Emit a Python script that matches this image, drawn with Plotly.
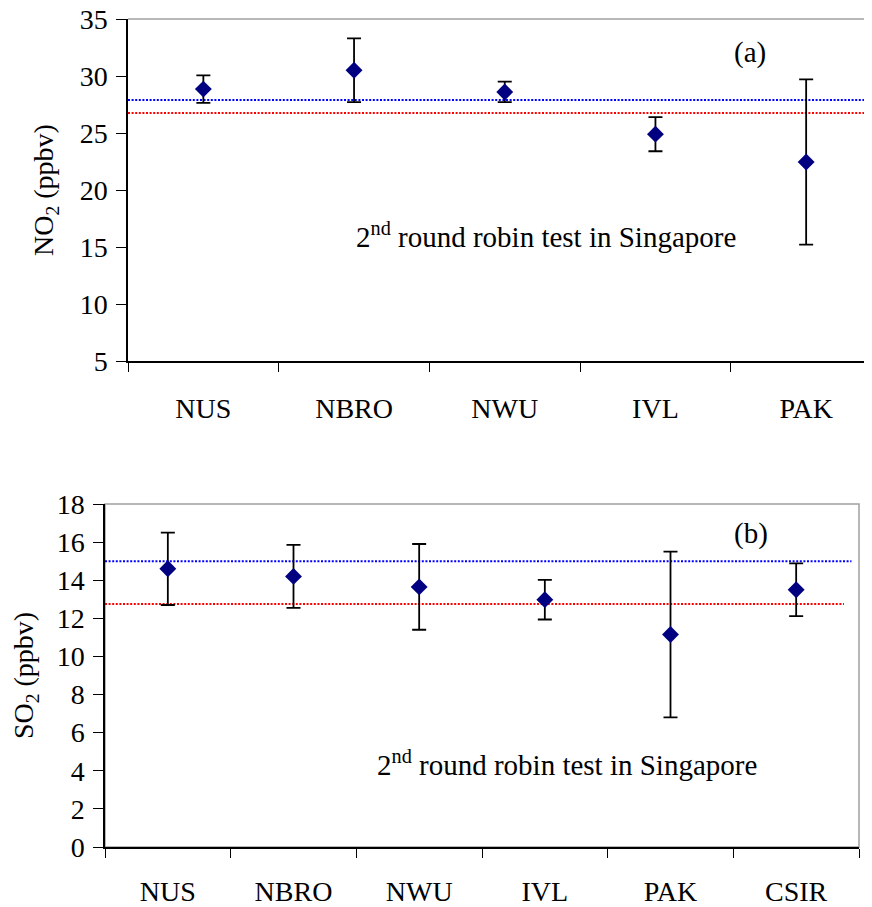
import plotly.graph_objects as go

# ---- data ----
labs_no2 = ["NUS", "NBRO", "NWU", "IVL", "PAK"]
no2_mean = [28.85, 30.5, 28.6, 24.9, 22.45]
no2_err = [1.2, 2.8, 0.9, 1.5, 7.25]
no2_blue = 27.9
no2_red = 26.75

labs_so2 = ["NUS", "NBRO", "NWU", "IVL", "PAK", "CSIR"]
so2_mean = [14.6, 14.2, 13.65, 12.98, 11.15, 13.5]
so2_err = [1.9, 1.65, 2.25, 1.04, 4.35, 1.38]
so2_blue = 15.0
so2_red = 12.75

no2_ticks = [5, 10, 15, 20, 25, 30, 35]
so2_ticks = [0, 2, 4, 6, 8, 10, 12, 14, 16, 18]

FONT = "Liberation Serif"
FS = 28
OFF = 8                      # page body margin of the browser
VW, VH = 872, 907            # window
W, H = VW - OFF, VH - OFF    # figure size


def px(x):
    return (x - OFF) / W


def py(y):
    return (H - (y - OFF)) / H


fig = go.Figure()

fig.add_trace(go.Scatter(
    x=labs_no2, y=no2_mean, mode="markers",
    marker=dict(symbol="diamond", size=13, color="#000080"),
    error_y=dict(type="data", array=no2_err, color="black", thickness=1.8, width=7),
    xaxis="x", yaxis="y", showlegend=False, cliponaxis=False))

fig.add_trace(go.Scatter(
    x=labs_so2, y=so2_mean, mode="markers",
    marker=dict(symbol="diamond", size=13, color="#000080"),
    error_y=dict(type="data", array=so2_err, color="black", thickness=1.8, width=7),
    xaxis="x2", yaxis="y2", showlegend=False, cliponaxis=False))

# geometry in window pixels (reference)
top_l, top_t, top_b = 128, 19, 361
top_step = 150.7
bot_l, bot_r, bot_t, bot_b = 105, 859, 504, 847

top_range_end = (VW - top_l) / top_step - 0.5

axis_common = dict(
    showline=True, linecolor="black", linewidth=1.5,
    ticks="outside", tickcolor="black", tickwidth=1.2,
    showgrid=False, zeroline=False,
    tickfont=dict(family=FONT, size=FS, color="black"),
    automargin=False, ticklabeloverflow="allow",
)

fig.update_layout(
    width=W, height=H,
    margin=dict(l=0, r=0, t=0, b=0),
    plot_bgcolor="white", paper_bgcolor="white",
    font=dict(family=FONT, size=FS, color="black"),
    xaxis=dict(domain=[px(top_l), 1.0], anchor="y", type="category",
               categoryorder="array", categoryarray=labs_no2,
               range=[-0.5, top_range_end], tickson="boundaries",
               ticklen=9, ticklabelstandoff=22, **axis_common),
    yaxis=dict(domain=[py(top_b), py(top_t)], anchor="x",
               range=[5, 35], tickvals=no2_ticks, ticklen=10, ticklabelstandoff=3,
               title=dict(text="NO<sub>2</sub> (ppbv)", standoff=18,
                          font=dict(family=FONT, size=FS, color="black")),
               **axis_common),
    xaxis2=dict(domain=[px(bot_l), px(bot_r)], anchor="y2", type="category",
                categoryorder="array", categoryarray=labs_so2,
                range=[-0.5, 5.5], tickson="boundaries",
                ticklen=9, ticklabelstandoff=19, **axis_common),
    yaxis2=dict(domain=[py(bot_b), py(bot_t)], anchor="x2",
                range=[0, 18], tickvals=so2_ticks, ticklen=10, ticklabelstandoff=3,
                title=dict(text="SO<sub>2</sub> (ppbv)", standoff=18,
                           font=dict(family=FONT, size=FS, color="black")),
                **axis_common),
)

dotdash = "2px,1.6px"
shapes = [
    # frame borders (gray)
    dict(type="line", xref="x domain", yref="y domain", x0=0, x1=1, y0=1, y1=1,
         line=dict(color="#a0a0a0", width=1.5), layer="below"),
    dict(type="rect", xref="x2 domain", yref="y2 domain", x0=0, x1=1, y0=0, y1=1,
         line=dict(color="#a0a0a0", width=1.5), layer="below"),
    # reference lines
    dict(type="line", xref="x domain", yref="y", x0=0, x1=1, y0=no2_blue, y1=no2_blue,
         line=dict(color="#0000ff", width=2, dash=dotdash), layer="below"),
    dict(type="line", xref="x domain", yref="y", x0=0, x1=0.992, y0=no2_red, y1=no2_red,
         line=dict(color="#ff0000", width=2, dash=dotdash), layer="below"),
    dict(type="line", xref="x2 domain", yref="y2", x0=0, x1=0.99, y0=so2_blue, y1=so2_blue,
         line=dict(color="#0000ff", width=2, dash=dotdash), layer="below"),
    dict(type="line", xref="x2 domain", yref="y2", x0=0, x1=0.98, y0=so2_red, y1=so2_red,
         line=dict(color="#ff0000", width=2, dash=dotdash), layer="below"),
]
fig.update_layout(shapes=shapes)

ann_font = dict(family=FONT, size=29, color="black")
anns = [
    dict(text="(a)", x=px(750), y=py(53)),
    dict(text="2<sup>nd</sup> round robin test in Singapore", x=px(546), y=py(235)),
    dict(text="(b)", x=px(751), y=py(533)),
    dict(text="2<sup>nd</sup> round robin test in Singapore", x=px(567), y=py(763)),
]
for a in anns:
    a.update(xref="paper", yref="paper", xanchor="center", yanchor="middle",
             showarrow=False, font=ann_font)
fig.update_layout(annotations=anns)

fig.write_html("out.html")
